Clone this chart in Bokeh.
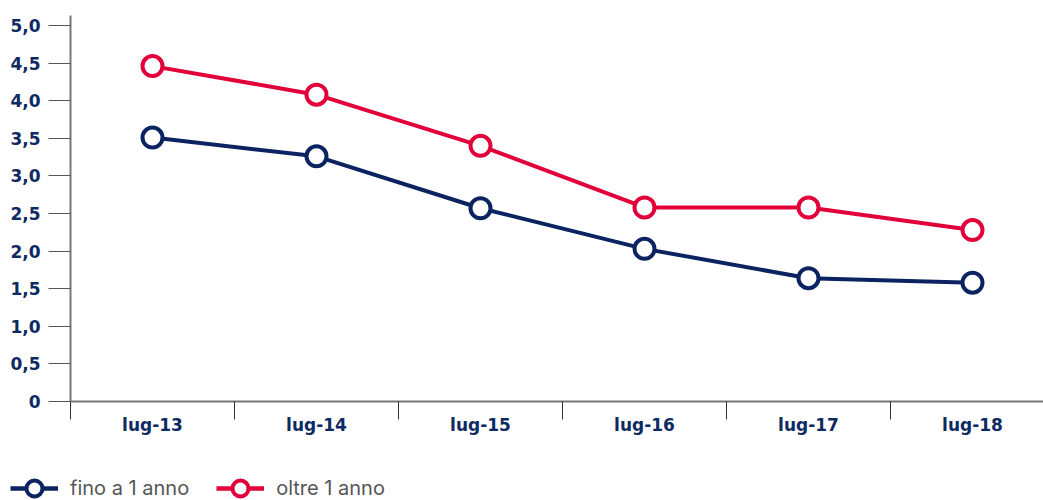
from bokeh.plotting import figure
from bokeh.layouts import column, row
from bokeh.models import Range1d, FixedTicker, Legend, LegendItem
from bokeh.embed import file_html
from bokeh.resources import INLINE

categories = ["lug-13", "lug-14", "lug-15", "lug-16", "lug-17", "lug-18"]
fino_a_1_anno = [3.51, 3.26, 2.57, 2.03, 1.64, 1.58]
oltre_1_anno = [4.46, 4.08, 3.40, 2.58, 2.58, 2.28]
y_ticks = [0, 0.5, 1.0, 1.5, 2.0, 2.5, 3.0, 3.5, 4.0, 4.5, 5.0]
y_labels = ["0", "0,5", "1,0", "1,5", "2,0", "2,5", "3,0", "3,5", "4,0", "4,5", "5,0"]
series_names = ["fino a 1 anno", "oltre 1 anno"]

NAVY = "#0b2461"
RED = "#e2003b"
LABEL = "#0e2a62"

xs = [i + 0.5 for i in range(len(categories))]

p = figure(width=1043, height=440, output_backend="svg", toolbar_location=None,
           x_range=Range1d(0, 973 / 164), y_range=Range1d(0, 5.133),
           min_border_left=70, min_border_right=0, min_border_top=15, min_border_bottom=39)
p.outline_line_color = None
p.grid.visible = False

# x axis
xa = p.xaxis[0]
xa.ticker = FixedTicker(ticks=xs, minor_ticks=list(range(len(categories) + 1)))
xa.major_label_overrides = {x: c for x, c in zip(xs, categories)}
xa.major_tick_out = 0
xa.major_tick_in = 0
xa.minor_tick_out = 18
xa.minor_tick_in = 0
xa.minor_tick_line_color = "#333333"
xa.minor_tick_line_width = 1
xa.axis_line_color = "#777777"
xa.axis_line_width = 2
xa.major_label_standoff = -5
xa.major_label_text_font = "DejaVu Sans"
xa.major_label_text_font_style = "bold"
xa.major_label_text_font_size = "17px"
xa.major_label_text_color = LABEL

# y axis
ya = p.yaxis[0]
ya.ticker = FixedTicker(ticks=y_ticks, minor_ticks=[])
ya.major_label_overrides = {t: l for t, l in zip(y_ticks, y_labels)}
ya.major_tick_out = 22
ya.major_tick_in = 0
ya.major_tick_line_color = "#555555"
ya.major_tick_line_width = 1
ya.minor_tick_out = 0
ya.minor_tick_in = 0
ya.axis_line_color = "#777777"
ya.axis_line_width = 2
ya.major_label_standoff = 8
ya.major_label_text_font = "DejaVu Sans"
ya.major_label_text_font_style = "bold"
ya.major_label_text_font_size = "17px"
ya.major_label_text_color = LABEL

for vals, col in ((fino_a_1_anno, NAVY), (oltre_1_anno, RED)):
    p.line(xs, vals, line_color=col, line_width=4)
    p.scatter(xs, vals, marker="circle", size=20, fill_color="white",
              line_color=col, line_width=4)

# legend strip below the chart (same series, drawn out of its visible range)
lg = figure(width=1043, height=60, output_backend="svg", toolbar_location=None,
            x_range=Range1d(0, 1), y_range=Range1d(100, 101),
            x_axis_location=None, y_axis_location=None,
            min_border=0, min_border_left=0, min_border_right=0,
            min_border_top=0, min_border_bottom=0)
lg.grid.visible = False
lg.outline_line_color = None
items = []
for name, vals, col in zip(series_names, (fino_a_1_anno, oltre_1_anno), (NAVY, RED)):
    r1 = lg.line(xs, vals, line_color=col, line_width=4.5)
    r2 = lg.scatter(xs, vals, marker="circle", size=20, fill_color="white",
                    line_color=col, line_width=4)
    items.append(LegendItem(label=name, renderers=[r1, r2]))

legend = Legend(items=items, orientation="horizontal", location=(10, -8),
                glyph_width=48, glyph_height=40, label_standoff=12, spacing=27,
                padding=0, margin=0, border_line_color=None,
                background_fill_alpha=0,
                label_text_font="Inter", label_text_font_size="20px",
                label_text_color="#555555")
lg.add_layout(legend, "center")

open("out.html", "w").write(file_html(column(p, row(lg, spacing=0), spacing=0), INLINE))
